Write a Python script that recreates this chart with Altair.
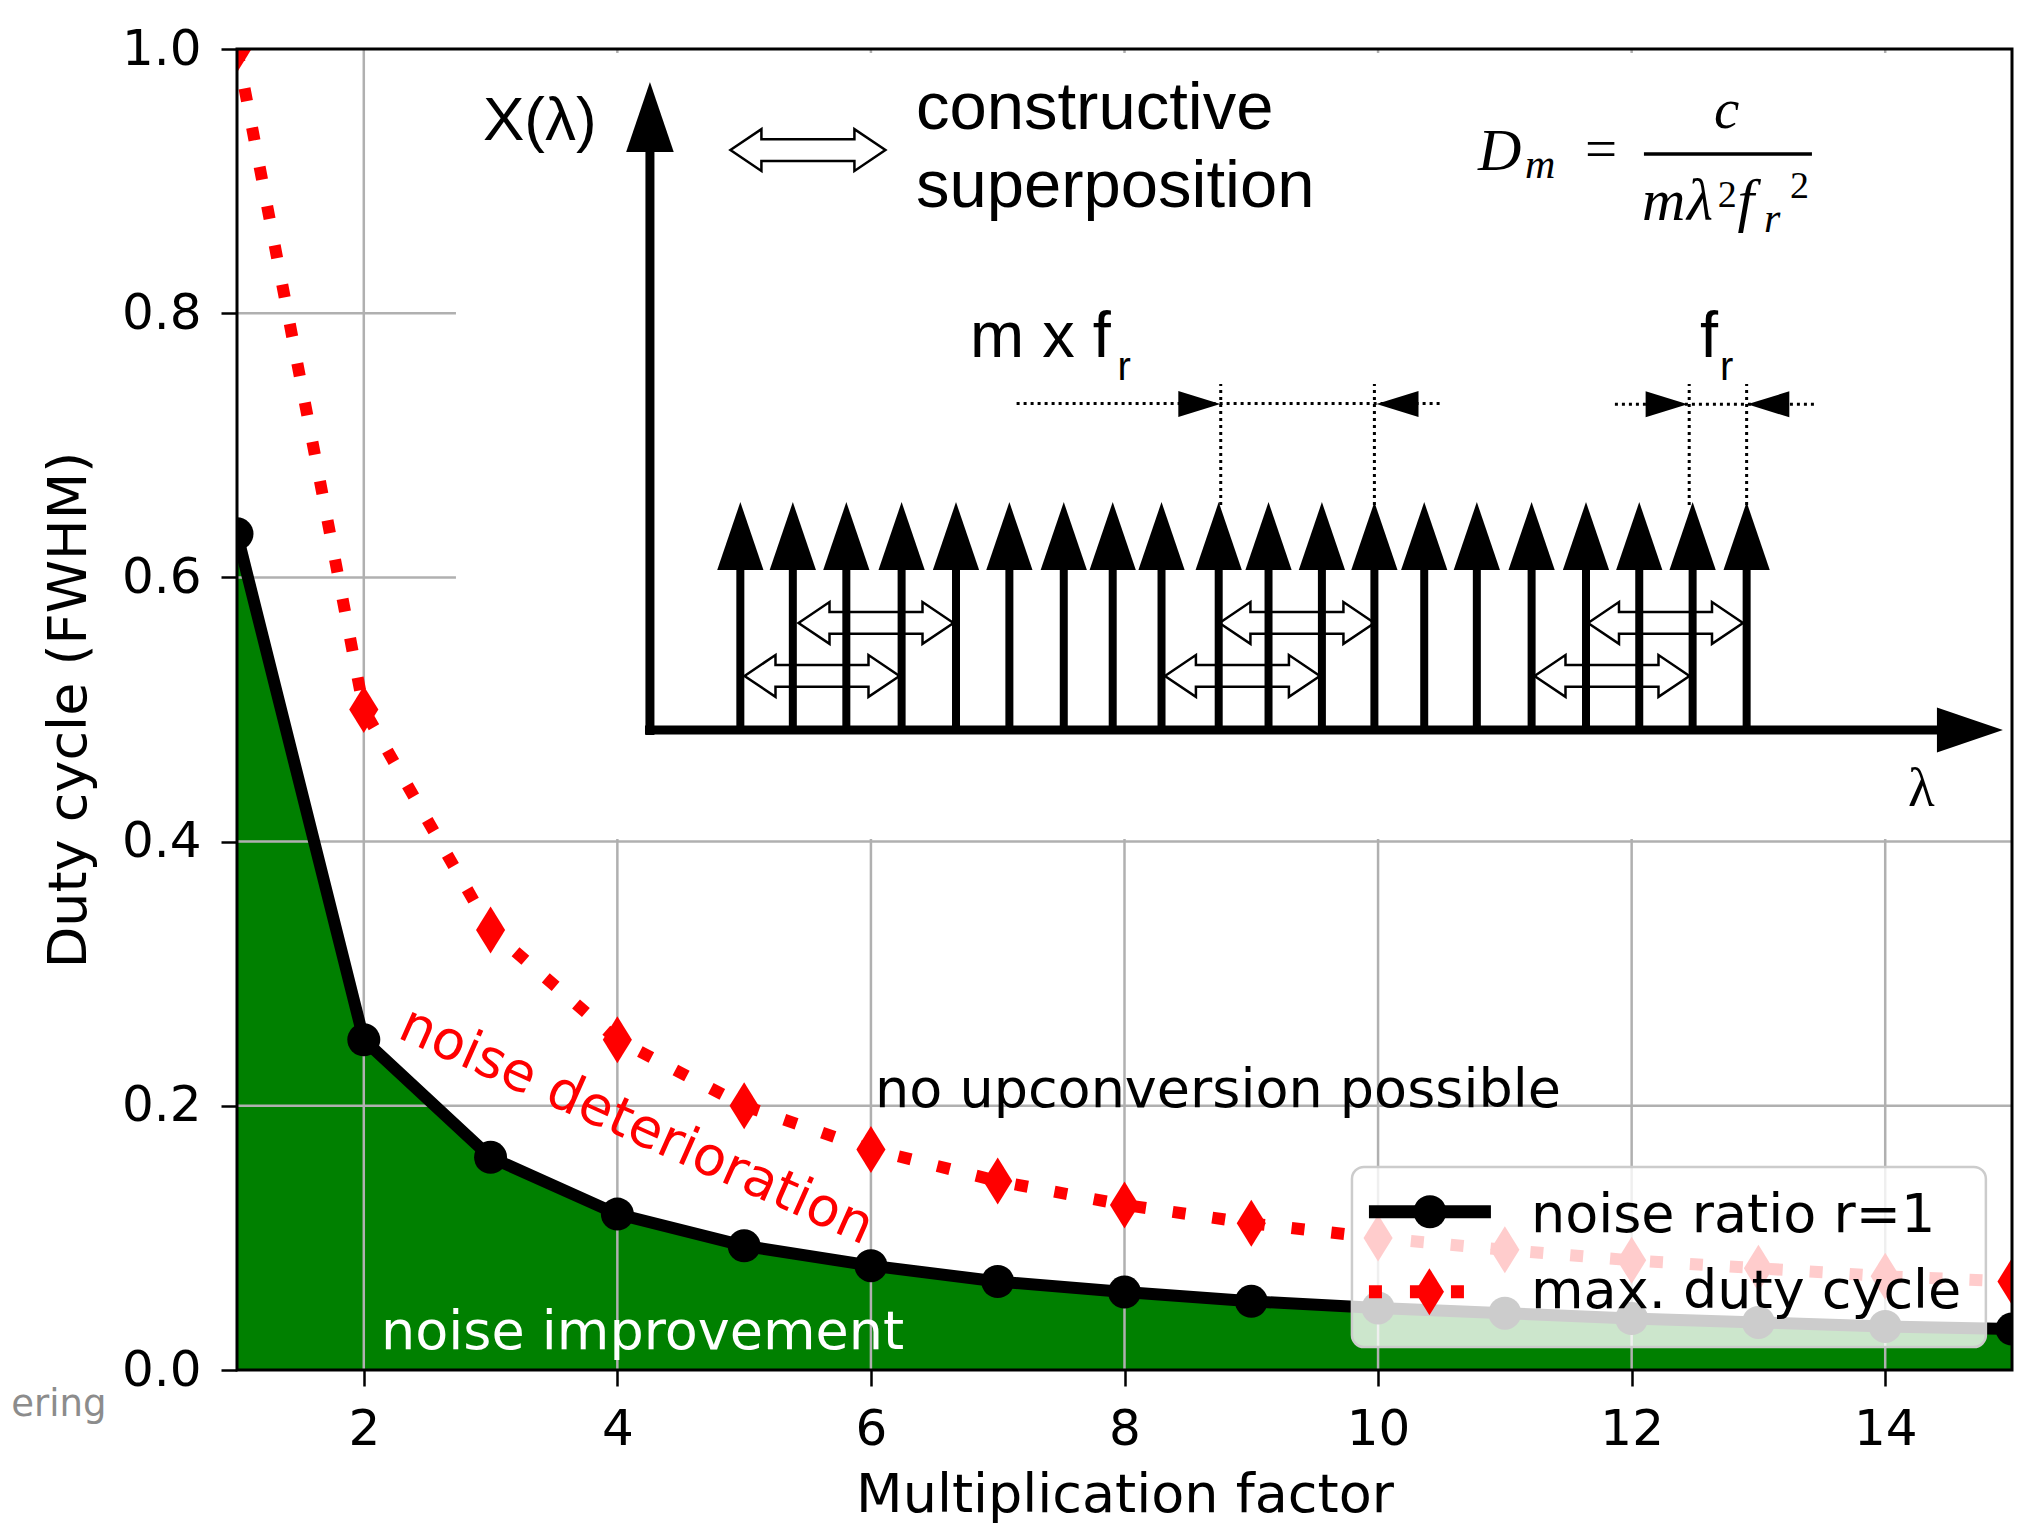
import altair as alt
import pandas as pd

# ---------------- main data ----------------
multiplication_factor = list(range(1, 16))
noise_ratio_r1 = [0.633, 0.250, 0.161, 0.118, 0.094, 0.079, 0.067, 0.059, 0.052,
                  0.047, 0.043, 0.039, 0.036, 0.033, 0.031]
max_duty_cycle = [1.000, 0.500, 0.333, 0.250, 0.200, 0.167, 0.143, 0.125, 0.111,
                  0.100, 0.091, 0.083, 0.077, 0.071, 0.067]
series_names = ["noise ratio r=1", "max. duty cycle"]
x_tick_values = [2, 4, 6, 8, 10, 12, 14]
y_tick_values = [0.0, 0.2, 0.4, 0.6, 0.8, 1.0]
grid_y_values = [0.2, 0.4, 0.6, 0.8]

# ---------------- inset diagram (axis units) ----------------
inset_box = {"x0": [2.727], "x1": [15.0], "y0": [0.402], "y1": [0.997]}
comb_x = [4.970, 5.384, 5.806, 6.242, 6.671, 7.092, 7.521, 7.907, 8.292, 8.743,
          9.136, 9.557, 9.971, 10.364, 10.779, 11.211, 11.640, 12.060, 12.481, 12.907]
comb_base = 0.4845
comb_stem_top = 0.628
comb_head = 0.6313
hollow_x = [5.503, 6.040, 9.360, 12.267, 5.614, 8.930, 11.845]
hollow_y = [0.9235, 0.5655, 0.5655, 0.5655, 0.5254, 0.5254, 0.5254]
dotted_h = {"x0": [7.149, 11.868], "x1": [10.515, 13.446], "y": [0.7316, 0.7310]}
dotted_v = {"x": [8.759, 9.971, 12.454, 12.907], "y0": [0.6548] * 4, "y1": [0.7464] * 4}
dim_right = {"x": [8.59, 12.276], "y": [0.7313, 0.7310]}
dim_left = {"x": [10.153, 13.078], "y": [0.7313, 0.7310]}

sans_text = ["X(λ)", "constructive", "superposition", "m x f", "r", "f", "r"]
sans_x = [2.940, 6.355, 6.355, 6.781, 7.945, 12.539, 12.696]
sans_y = [0.9311, 0.9394, 0.8806, 0.7671, 0.7494, 0.7671, 0.7494]
sans_fs = [62, 67, 67, 65, 40, 65, 40]

ital_text = ["D", "m", "c", "m", "λ", "f", "r"]
ital_x = [10.788, 11.158, 12.650, 12.081, 12.436, 12.835, 13.044]
ital_y = [0.9084, 0.9024, 0.9402, 0.8706, 0.8706, 0.8706, 0.8615]
ital_fs = [60, 42, 57, 60, 60, 60, 42]

serif_text = ["=", "2", "2", "λ"]
serif_x = [11.632, 12.680, 13.249, 14.18]
serif_y = [0.9099, 0.8804, 0.8872, 0.4269]
serif_fs = [57, 38, 38, 55]

# annotations
annot_text = ["noise deterioration", "no upconversion possible", "noise improvement"]
annot_x = [2.254, 6.032, 2.136]
annot_y = [0.2521, 0.199, 0.0159]

# ---------------- shapes ----------------
DIAMOND = "M 0 -1 L 0.62 0 L 0 1 L -0.62 0 Z"
TRI_UP = "M 0 -1 L 0.68 1 L -0.68 1 Z"
TRI_RIGHT = "M 1 0 L -1 -0.68 L -1 0.68 Z"
DIM_RIGHT = "M 1 0 L -1 -0.62 L -1 0.62 Z"
DIM_LEFT = "M -1 0 L 1 -0.62 L 1 0.62 Z"
HOLLOW = ("M -1 0 L -0.6 -0.27 L -0.6 -0.14 L 0.6 -0.14 L 0.6 -0.27 L 1 0 "
          "L 0.6 0.27 L 0.6 0.14 L -0.6 0.14 L -0.6 0.27 Z")

FONT = "DejaVu Sans"
XS = alt.Scale(domain=[1, 15], nice=False, zero=False)
YS = alt.Scale(domain=[0, 1], nice=False, zero=False)

X_AXIS = alt.Axis(values=x_tick_values, title="Multiplication factor", grid=False, domain=False,
                  tickSize=16, tickWidth=2.5, tickColor="black", labelFontSize=50, labelFont=FONT,
                  labelColor="black", labelPadding=18, labelFlush=False, labelOverlap=False,
                  titleFontSize=54, titleFont=FONT, titleFontWeight="normal", titleColor="black",
                  titleY=141, titleBaseline="alphabetic")
Y_AXIS = alt.Axis(values=y_tick_values, format=".1f", title="Duty cycle (FWHM)", grid=False,
                  domain=False, tickSize=16, tickWidth=2.5, tickColor="black", labelFontSize=50,
                  labelFont=FONT, labelColor="black", labelPadding=20, labelFlush=False,
                  labelOverlap=False, titleFontSize=54, titleFont=FONT, titleFontWeight="normal",
                  titleColor="black", titleX=-152, titleY=660.5, titleAngle=270,
                  titleBaseline="alphabetic", titleAlign="center")


def qx(f):
    return alt.X(f"{f}:Q", scale=XS, axis=X_AXIS)


def qy(f):
    return alt.Y(f"{f}:Q", scale=YS, axis=Y_AXIS)


def qx2(f):
    return alt.X2(f"{f}:Q")


def qy2(f):
    return alt.Y2(f"{f}:Q")


df_main = pd.DataFrame({"m": multiplication_factor, "noise": noise_ratio_r1, "maxd": max_duty_cycle})

area = alt.Chart(df_main).mark_area(color="#008000", opacity=1, clip=True).encode(
    x=qx("m"), y=qy("noise"))

vgrid = alt.Chart(pd.DataFrame({"gx": x_tick_values})).mark_rule(
    color="#b0b0b0", strokeWidth=2.5).encode(x=qx("gx"))
hgrid = alt.Chart(pd.DataFrame({"gy": grid_y_values})).mark_rule(
    color="#b0b0b0", strokeWidth=2.5).encode(y=qy("gy"))

inset = alt.Chart(pd.DataFrame(inset_box)).mark_rect(fill="white", opacity=1).encode(
    x=qx("x0"), x2=qx2("x1"), y=qy("y0"), y2=qy2("y1"))

black_line = alt.Chart(df_main).mark_line(color="black", strokeWidth=12, clip=True).encode(
    x=qx("m"), y=qy("noise"))
black_pts = alt.Chart(df_main).mark_point(shape="circle", filled=True, color="black", size=1089,
                                          opacity=1, clip=True).encode(x=qx("m"), y=qy("noise"))
red_line = alt.Chart(df_main).mark_line(color="red", strokeWidth=12, strokeDash=[13, 27],
                                        clip=True).encode(x=qx("m"), y=qy("maxd"))
red_pts = alt.Chart(df_main).mark_point(shape=DIAMOND, filled=True, color="red", size=2209,
                                        opacity=1, clip=True).encode(x=qx("m"), y=qy("maxd"))

# ---- inset diagram layers ----
hollow = alt.Chart(pd.DataFrame({"x": hollow_x, "y": hollow_y})).mark_point(
    shape=HOLLOW, size=24025, filled=True, fill="white", stroke="black", strokeWidth=2.5,
    opacity=1).encode(x=qx("x"), y=qy("y"))

df_comb = pd.DataFrame({"x": comb_x, "y0": [comb_base] * len(comb_x),
                        "y1": [comb_stem_top] * len(comb_x), "yh": [comb_head] * len(comb_x)})
stems = alt.Chart(df_comb).mark_rule(color="black", strokeWidth=8).encode(
    x=qx("x"), y=qy("y0"), y2=qy2("y1"))
heads = alt.Chart(df_comb).mark_point(shape=TRI_UP, size=4624, filled=True, color="black",
                                      opacity=1).encode(x=qx("x"), y=qy("yh"))

v_axis = alt.Chart(pd.DataFrame({"x": [4.257], "y0": [0.4807], "y1": [0.93]})).mark_rule(
    color="black", strokeWidth=9).encode(x=qx("x"), y=qy("y0"), y2=qy2("y1"))
h_axis = alt.Chart(pd.DataFrame({"x0": [4.218], "x1": [14.45], "y": [comb_base]})).mark_rule(
    color="black", strokeWidth=9).encode(x=qx("x0"), x2=qx2("x1"), y=qy("y"))
v_head = alt.Chart(pd.DataFrame({"x": [4.257], "y": [0.9485]})).mark_point(
    shape=TRI_UP, size=4900, filled=True, color="black", opacity=1).encode(x=qx("x"), y=qy("y"))
h_head = alt.Chart(pd.DataFrame({"x": [14.668], "y": [comb_base]})).mark_point(
    shape=TRI_RIGHT, size=4356, filled=True, color="black", opacity=1).encode(x=qx("x"), y=qy("y"))

dot_h = alt.Chart(pd.DataFrame(dotted_h)).mark_rule(
    color="black", strokeWidth=3, strokeDash=[3, 4]).encode(x=qx("x0"), x2=qx2("x1"), y=qy("y"))
dot_v = alt.Chart(pd.DataFrame(dotted_v)).mark_rule(
    color="black", strokeWidth=3, strokeDash=[3, 4]).encode(x=qx("x"), y=qy("y0"), y2=qy2("y1"))
dim_r = alt.Chart(pd.DataFrame(dim_right)).mark_point(
    shape=DIM_RIGHT, size=1764, filled=True, color="black", opacity=1).encode(x=qx("x"), y=qy("y"))
dim_l = alt.Chart(pd.DataFrame(dim_left)).mark_point(
    shape=DIM_LEFT, size=1764, filled=True, color="black", opacity=1).encode(x=qx("x"), y=qy("y"))

frac_bar = alt.Chart(pd.DataFrame({"x0": [12.097], "x1": [13.422], "y": [0.9205]})).mark_rule(
    color="black", strokeWidth=3.5).encode(x=qx("x0"), x2=qx2("x1"), y=qy("y"))


def text_layer(texts, xs, ys, fss, **kw):
    df = pd.DataFrame({"t": texts, "x": xs, "y": ys, "fs": fss})
    return alt.Chart(df).mark_text(align="left", baseline="alphabetic", **kw).encode(
        x=qx("x"), y=qy("y"), text="t:N", size=alt.Size("fs:Q", scale=None, legend=None))


sans_layer = text_layer(sans_text, sans_x, sans_y, sans_fs, font="Liberation Sans", color="black")
ital_layer = text_layer(ital_text, ital_x, ital_y, ital_fs, font="Liberation Serif",
                        fontStyle="italic", color="black")
serif_layer = text_layer(serif_text, serif_x, serif_y, serif_fs, font="Liberation Serif",
                         color="black")

# ---- annotations ----
det = alt.Chart(pd.DataFrame({"t": [annot_text[0]], "x": [annot_x[0]], "y": [annot_y[0]]})).mark_text(
    align="left", baseline="alphabetic", font=FONT, fontSize=54, color="red", angle=24).encode(
    x=qx("x"), y=qy("y"), text="t:N")
noup = alt.Chart(pd.DataFrame({"t": [annot_text[1]], "x": [annot_x[1]], "y": [annot_y[1]]})).mark_text(
    align="left", baseline="alphabetic", font=FONT, fontSize=54, color="black").encode(
    x=qx("x"), y=qy("y"), text="t:N")
impr = alt.Chart(pd.DataFrame({"t": [annot_text[2]], "x": [annot_x[2]], "y": [annot_y[2]]})).mark_text(
    align="left", baseline="alphabetic", font=FONT, fontSize=54, color="white").encode(
    x=qx("x"), y=qy("y"), text="t:N")

# ---- legend ----
leg_box = alt.Chart(pd.DataFrame({"x0": [9.794], "x1": [14.794], "y0": [0.0174], "y1": [0.1537]})).mark_rect(
    cornerRadius=12, fill="white", fillOpacity=0.8, stroke="#cccccc", strokeWidth=2.5).encode(
    x=qx("x0"), x2=qx2("x1"), y=qy("y0"), y2=qy2("y1"))
leg_black = alt.Chart(pd.DataFrame({"x0": [9.928], "x1": [10.890], "y": [0.1198]})).mark_rule(
    color="black", strokeWidth=13).encode(x=qx("x0"), x2=qx2("x1"), y=qy("y"))
leg_black_pt = alt.Chart(pd.DataFrame({"x": [10.409], "y": [0.1198]})).mark_point(
    shape="circle", filled=True, color="black", size=1089, opacity=1).encode(x=qx("x"), y=qy("y"))
leg_red = alt.Chart(pd.DataFrame({"x0": [9.928], "x1": [10.890], "y": [0.0593]})).mark_rule(
    color="red", strokeWidth=13, strokeDash=[13, 28]).encode(x=qx("x0"), x2=qx2("x1"), y=qy("y"))
leg_red_pt = alt.Chart(pd.DataFrame({"x": [10.405], "y": [0.0593]})).mark_point(
    shape=DIAMOND, filled=True, color="red", size=2209, opacity=1).encode(x=qx("x"), y=qy("y"))
leg_text = alt.Chart(pd.DataFrame({"t": series_names, "x": [11.206, 11.206], "y": [0.1045, 0.0469]})).mark_text(
    align="left", baseline="alphabetic", font=FONT, fontSize=54, color="black").encode(
    x=qx("x"), y=qy("y"), text="t:N")

frame = alt.Chart(pd.DataFrame({"x0": [1], "x1": [15], "y0": [0], "y1": [1]})).mark_rect(
    fillOpacity=0, fill="white", stroke="black", strokeWidth=3).encode(
    x=qx("x0"), x2=qx2("x1"), y=qy("y0"), y2=qy2("y1"))

ering = alt.Chart(pd.DataFrame({"t": ["ering"], "x": [-0.03], "y": [-0.0348]})).mark_text(
    align="right", baseline="alphabetic", font=FONT, fontSize=37, color="#8c8c8c").encode(
    x=qx("x"), y=qy("y"), text="t:N")

chart = alt.layer(
    area, vgrid, hgrid, inset, black_line, black_pts, red_line, red_pts,
    hollow, stems, heads, v_axis, h_axis, v_head, h_head, dot_h, dot_v, dim_r, dim_l,
    frac_bar, sans_layer, ital_layer, serif_layer,
    det, noup, impr,
    leg_box, leg_black, leg_black_pt, leg_red, leg_red_pt, leg_text,
    frame, ering,
).properties(
    width=1775, height=1321,
    padding={"left": 229, "top": 41, "right": 11, "bottom": 155},
    autosize=alt.AutoSizeParams(type="none"),
).configure_view(stroke=None).configure(background="white")

chart.save("out.html", embed_options={"renderer": "svg", "actions": False})
